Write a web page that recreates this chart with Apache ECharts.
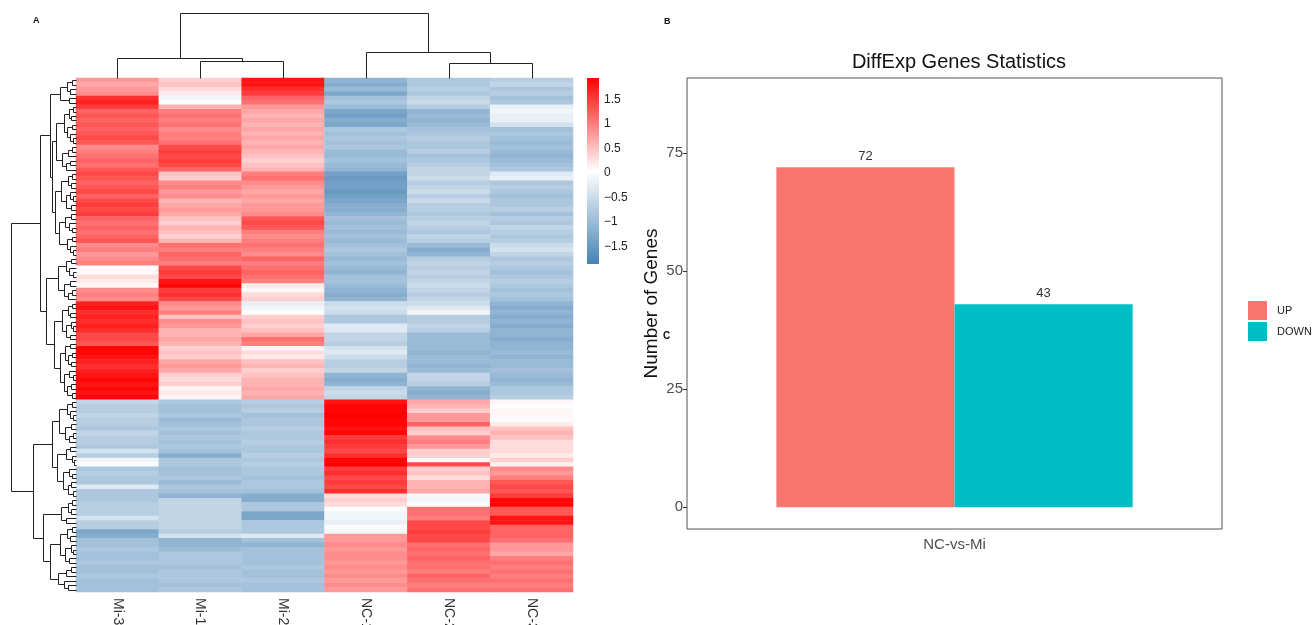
<!DOCTYPE html>
<html>
<head>
<meta charset="utf-8">
<script src="https://cdn.jsdelivr.net/npm/echarts@6.0.0/dist/echarts.min.js"></script>
<style>
  html, body { margin: 0; padding: 0; background: #fff; }
  #chart { width: 1316px; height: 625px; }
</style>
</head>
<body>
<div id="chart"></div>
<script>
const fontSans = "'Liberation Sans', Arial, Helvetica, sans-serif"

// heatmap columns (order as drawn)
const samples = ['Mi-3', 'Mi-1', 'Mi-2', 'NC-1', 'NC-2', 'NC-3']

// scaled expression, one row per gene: Mi-3, Mi-1, Mi-2, NC-1, NC-2, NC-3
const upGenes = [
  [0.8, 0.4, 1.8, -1.1, -0.8, -0.7], [0.7, 0.5, 1.8, -1.2, -0.8, -0.6], [0.8, 0.3, 1.6, -1.0, -0.7, -0.8],
  [0.9, 0.2, 1.5, -1.3, -0.8, -0.7], [1.6, -0.1, 1.2, -0.9, -0.6, -0.9], [1.7, 0.0, 1.1, -0.8, -0.5, -0.8],
  [1.5, 0.6, 0.8, -1.0, -0.7, -0.2], [1.2, 1.0, 0.7, -1.3, -1.1, -0.1], [1.3, 1.1, 0.6, -1.4, -1.0, -0.2],
  [1.2, 1.0, 0.7, -1.2, -1.1, -0.2], [1.3, 1.1, 0.6, -1.3, -1.0, -0.4], [1.2, 0.9, 0.7, -0.8, -0.9, -0.9],
  [1.3, 1.0, 0.6, -0.9, -0.8, -0.8], [1.4, 1.0, 0.7, -0.8, -0.7, -0.9], [1.3, 1.1, 0.6, -0.9, -0.8, -1.0],
  [0.9, 1.4, 0.7, -0.8, -0.8, -0.9], [1.0, 1.5, 0.6, -1.0, -0.7, -1.0], [1.1, 1.4, 0.5, -1.0, -0.9, -1.1],
  [1.2, 1.5, 0.4, -0.9, -0.8, -1.0], [1.1, 1.4, 0.5, -1.0, -0.7, -0.9], [1.3, 1.2, 0.6, -1.1, -0.6, -0.8],
  [1.4, 0.5, 1.0, -1.4, -0.6, -0.3], [1.3, 0.4, 1.1, -1.5, -0.5, -0.2], [1.2, 0.9, 0.9, -1.4, -0.7, -0.8],
  [1.3, 1.0, 0.8, -1.4, -0.6, -0.7], [1.4, 0.8, 0.7, -1.5, -0.5, -0.8], [1.2, 0.9, 0.8, -1.4, -0.7, -0.9],
  [1.4, 0.6, 0.7, -1.3, -0.5, -0.8], [1.5, 0.7, 0.8, -1.2, -0.7, -0.8], [1.4, 0.8, 0.8, -1.2, -0.7, -0.7],
  [1.5, 0.7, 0.9, -1.1, -0.8, -0.9], [1.2, 0.5, 1.3, -0.9, -0.7, -0.7], [1.1, 0.4, 1.4, -1.0, -0.6, -0.8],
  [1.2, 0.6, 1.3, -0.9, -0.7, -0.6], [1.1, 0.5, 1.0, -1.0, -0.8, -0.7], [1.2, 0.4, 0.9, -0.9, -0.6, -0.8],
  [1.3, 0.6, 1.0, -1.0, -0.7, -0.7], [0.9, 1.1, 1.1, -0.9, -1.0, -0.5], [1.0, 1.0, 1.0, -0.8, -1.2, -0.4],
  [0.8, 1.2, 0.9, -0.9, -1.1, -0.6], [0.9, 1.1, 1.2, -1.0, -0.7, -0.8], [1.0, 1.0, 1.0, -0.9, -0.6, -0.7],
  [0.05, 1.4, 1.1, -1.0, -0.7, -0.8], [0.1, 1.5, 1.2, -1.1, -0.6, -0.9], [0.3, 1.4, 1.1, -0.9, -0.7, -0.8],
  [0.2, 1.8, 1.0, -0.9, -0.6, -0.7], [0.1, 1.9, 0.2, -1.0, -0.5, -0.8], [0.9, 1.5, 0.1, -1.1, -0.6, -0.9],
  [1.0, 1.6, 0.3, -1.2, -0.7, -0.8], [0.9, 1.4, 0.4, -1.1, -0.6, -0.9], [1.7, 0.9, -0.2, -0.5, -0.5, -1.1],
  [1.8, 0.8, -0.1, -0.4, -0.3, -1.2], [1.6, 1.0, 0.0, -0.5, -0.1, -1.1], [1.7, 0.5, 0.4, -0.8, -0.7, -1.2],
  [1.6, 0.9, 0.5, -0.8, -0.7, -1.1], [1.7, 0.8, 0.4, -0.3, -0.6, -1.2], [1.6, 0.6, 0.5, -0.3, -0.7, -1.1],
  [1.4, 0.6, 0.7, -0.6, -1.0, -1.1], [1.4, 0.7, 1.1, -0.6, -1.0, -1.2], [1.3, 0.6, 1.0, -0.7, -1.0, -1.1],
  [1.9, 0.4, 0.1, -0.4, -1.0, -1.1], [1.9, 0.5, 0.3, -0.3, -1.1, -1.0], [1.8, 0.4, 0.2, -0.5, -1.0, -1.1],
  [1.7, 0.7, 0.5, -0.7, -1.0, -1.0], [1.6, 0.8, 0.6, -0.7, -1.1, -1.0], [1.7, 0.7, 0.4, -0.6, -1.0, -0.9],
  [1.8, 0.4, 0.5, -1.1, -0.6, -1.0], [1.9, 0.3, 0.6, -1.2, -0.6, -1.1], [1.8, 0.4, 0.6, -1.1, -0.7, -1.0],
  [1.9, 0.1, 0.7, -0.6, -1.1, -0.8], [1.8, 0.2, 0.6, -0.5, -1.2, -0.8], [1.9, 0.1, 0.7, -0.6, -1.1, -0.7],
]

const downGenes = [
  [-0.6, -0.8, -0.7, 1.8, 0.7, 0.1], [-0.7, -0.9, -0.8, 1.9, 0.6, 0.05], [-0.7, -0.9, -0.7, 1.9, 0.4, 0.1],
  [-0.6, -0.8, -0.9, 2.0, 0.8, 0.1], [-0.7, -1.0, -0.8, 1.9, 0.8, 0.0], [-0.7, -0.9, -0.8, 1.9, 1.2, 0.2],
  [-0.8, -0.8, -0.7, 1.8, 0.5, 0.5], [-0.6, -0.9, -0.8, 1.9, 0.4, 0.6], [-0.7, -0.8, -0.8, 1.5, 0.9, 0.5],
  [-0.7, -0.9, -0.7, 1.6, 1.0, 0.3], [-0.8, -0.8, -0.8, 1.5, 0.8, 0.3], [-0.4, -0.9, -0.8, 1.4, 0.4, 0.3],
  [-0.7, -1.2, -0.7, 1.6, 0.4, 0.2], [-0.1, -0.8, -0.8, 1.9, 0.1, 0.4], [0.0, -0.8, -0.7, 2.0, 1.4, 0.15],
  [-0.8, -0.9, -0.8, 1.5, 0.4, 0.9], [-0.7, -0.9, -0.8, 1.6, 0.5, 0.8], [-0.8, -0.8, -0.9, 1.4, 0.3, 1.0],
  [-0.8, -1.0, -0.8, 1.5, 0.6, 1.3], [-0.3, -0.8, -0.8, 1.4, 0.6, 1.4], [-0.8, -0.9, -0.9, 1.6, 0.7, 1.3],
  [-0.8, -1.1, -1.2, 0.3, -0.05, 1.5], [-0.8, -0.6, -1.2, 0.4, -0.1, 1.9], [-0.7, -0.6, -0.8, 0.3, 0.0, 1.9],
  [-0.7, -0.6, -0.8, 0.0, 1.1, 1.3], [-0.7, -0.6, -1.3, -0.1, 1.1, 1.3], [-0.4, -0.6, -1.3, -0.1, 1.0, 1.8],
  [-0.7, -0.6, -0.8, -0.2, 1.4, 1.8], [-0.7, -0.6, -0.8, 0.0, 1.4, 1.2], [-1.3, -0.7, -0.8, -0.1, 1.5, 1.2],
  [-1.2, -0.4, -0.3, 0.8, 1.4, 1.2], [-0.9, -1.1, -0.9, 0.8, 1.4, 1.1], [-0.9, -1.1, -1.1, 0.9, 1.1, 0.8],
  [-0.8, -1.0, -0.9, 0.8, 1.2, 0.8], [-0.9, -0.8, -0.9, 0.9, 1.1, 0.7], [-0.9, -0.8, -0.9, 0.9, 1.2, 1.0],
  [-0.8, -0.8, -0.9, 0.8, 1.1, 1.1], [-0.9, -0.9, -0.8, 0.9, 1.1, 1.0], [-0.9, -0.8, -0.9, 0.8, 1.0, 1.1],
  [-0.8, -0.8, -0.9, 0.9, 1.2, 1.0], [-0.9, -0.8, -0.8, 0.8, 1.1, 1.1], [-0.9, -0.9, -0.9, 0.9, 1.0, 1.0],
  [-0.9, -0.8, -0.9, 0.8, 1.1, 1.1],
]

// dendrograms: node = [height, child, child, ...], leaf = 0 (leaves taken in drawing order)
const colTree = [65, [20, 0, [17.5, 0, 0]], [26, 0, [15.5, 0, 0]]]

const rowTreeUp = [36,
  [26,
    [16, [9, [4, 0, 0], [6, 0, 0]], [7, 0, 0]],
    [24,
      [20, [12, [7, [3, 0, 0], [5, 0, 0]], [9, [4, 0, 0], [6, 0, [3, 0, 0]]]], [14, [8, [4, 0, 0], 0], [10, [6, 0, 0], 0]]],
      [21, [15, [8, [4, 0, 0], [5, 0, 0]], [10, [6, 0, [3, 0, 0]], [5, 0, 0]]], [17, [11, [5, 0, 0], [7, 0, [4, 0, 0]]], [9, [4, 0, 0], [6, 0, [3, 0, 0]]]]]]],
  [30,
    [18, [10, [5, 0, 0], [7, 0, [3, 0, 0]]], [12, [6, 0, 0], [8, [4, 0, 0], 0]]],
    [22, [14, [8, [4, 0, 0], [6, 0, 0]], [10, [5, 0, [3, 0, 0]], [6, 0, 0]]], [16, [11, [6, 0, 0], [8, [4, 0, 0], [5, 0, 0]]], [12, [7, 0, [3, 0, 0]], [9, [5, 0, 0], [4, 0, 0]]]]]]]

const rowTreeDown = [43,
  [24, [17, [9, [4, 0, 0], [6, 0, [3, 0, 0]]], [11, [5, 0, 0], [7, [3, 0, 0], 0]]], [19, [10, [6, 0, 0], [4, 0, [2, 0, 0]]], [13, [7, 0, [4, 0, 0]], [8, [5, 0, 0], [3, 0, 0]]]]],
  [33, [15, [8, [4, 0, 0], [5, 0, 0]], [10, 0, 0]], [26, [16, [9, [4, 0, 0], [6, 0, 0]], [11, [5, 0, [3, 0, 0]], [7, 0, 0]]], [18, [10, [5, 0, 0], 0], [12, 0, [8, 0, 0]]]]]]

const rowTree = [65, rowTreeUp, rowTreeDown]

// colour key
const keyMin = -1.86
const keyMax = 1.94
const keyTicks = [-1.5, -1, -0.5, 0, 0.5, 1, 1.5]
const keyColors = ['#4682B4', '#FFFFFF', '#FF0000']

// bar chart
const comparisons = ['NC-vs-Mi']
const upCount = [72]
const downCount = [43]
const countTicks = [0, 25, 50, 75]

const geneRows = upGenes.concat(downGenes)
const heatData = []
geneRows.forEach((row, r) => row.forEach((v, c) => heatData.push([c, r, v])))

// turn a tree into line segments [height1, pos1, height2, pos2]
function treeSegments(tree) {
  const segs = []
  let leaf = 0
  const walk = node => {
    if (node === 0) return { h: 0, p: leaf++ + 0.5 }
    const h = node[0]
    const kids = node.slice(1).map(walk)
    kids.forEach(k => segs.push([k.h, k.p, h, k.p]))
    const p0 = kids[0].p
    const p1 = kids[kids.length - 1].p
    segs.push([h, p0, h, p1])
    return { h, p: (p0 + p1) / 2 }
  }
  walk(tree)
  return segs
}

const rowSegs = treeSegments(rowTree)
const colSegs = treeSegments(colTree).map(s => [s[1], s[0], s[3], s[2]])

const lineItem = (params, api) => {
  const a = api.coord([api.value(0), api.value(1)])
  const b = api.coord([api.value(2), api.value(3)])
  return {
    type: 'line',
    shape: { x1: Math.round(a[0]) + 0.5, y1: Math.round(a[1]) + 0.5, x2: Math.round(b[0]) + 0.5, y2: Math.round(b[1]) + 0.5 },
    style: { stroke: '#222', lineWidth: 1 },
  }
}

const minusFmt = v => (v < 0 ? '\u2212' + Math.abs(v) : String(v))

const chart = echarts.init(document.getElementById('chart'))

chart.setOption({
  animation: false,
  textStyle: { fontFamily: fontSans },
  title: {
    text: 'DiffExp Genes Statistics',
    left: 954,
    top: 47,
    textAlign: 'center',
    textStyle: { fontSize: 20, fontWeight: 'normal', color: '#111', fontFamily: fontSans },
  },
  graphic: [
    { type: 'text', left: 33, top: 16, style: { text: 'A', font: 'bold 9px ' + fontSans, fill: '#111' } },
    { type: 'text', left: 664, top: 17, style: { text: 'B', font: 'bold 9px ' + fontSans, fill: '#111' } },
    { type: 'text', left: 663, top: 331, style: { text: 'C', font: 'bold 10px ' + fontSans, fill: '#111' } },
  ],
  legend: {
    data: ['UP', 'DOWN'],
    orient: 'vertical',
    left: 1243,
    top: 296,
    itemWidth: 19,
    itemHeight: 19,
    itemGap: 2,
    icon: 'rect',
    textStyle: { fontSize: 11, color: '#222', padding: [0, 0, 0, 5] },
  },
  visualMap: {
    type: 'continuous',
    show: false,
    seriesIndex: 0,
    min: keyMin,
    max: keyMax,
    inRange: { color: keyColors },
  },
  grid: [
    { left: 76, top: 78, width: 497, height: 514, outerBoundsMode: 'none' },
    { left: 76, top: 13, width: 497, height: 65, outerBoundsMode: 'none' },
    { left: 10, top: 78, width: 66, height: 514, outerBoundsMode: 'none' },
    { left: 587, top: 78, width: 12, height: 186, outerBoundsMode: 'none' },
    { left: 687, top: 78, width: 535, height: 451, show: true, borderColor: '#555', borderWidth: 1, outerBoundsMode: 'none' },
  ],
  xAxis: [
    {
      gridIndex: 0,
      type: 'category',
      data: samples,
      position: 'bottom',
      axisLine: { show: false },
      axisTick: { show: false },
      axisLabel: { rotate: -90, fontSize: 14, color: '#333', margin: 6 },
    },
    { gridIndex: 1, type: 'value', min: 0, max: samples.length, show: false },
    { gridIndex: 2, type: 'value', min: 0, max: 66, inverse: true, show: false },
    { gridIndex: 3, type: 'value', min: 0, max: 1, show: false },
    {
      gridIndex: 4,
      type: 'category',
      data: comparisons,
      axisLine: { show: false },
      axisTick: { alignWithLabel: true, length: 4, lineStyle: { color: '#333' } },
      axisLabel: { fontSize: 15, color: '#4d4d4d', margin: 8 },
    },
  ],
  yAxis: [
    { gridIndex: 0, type: 'category', data: geneRows.map((_, i) => 'gene' + (i + 1)), inverse: true, show: false },
    { gridIndex: 1, type: 'value', min: 0, max: 65, show: false },
    { gridIndex: 2, type: 'value', min: 0, max: geneRows.length, inverse: true, show: false },
    {
      gridIndex: 3,
      type: 'value',
      min: keyMin,
      max: keyMax,
      position: 'right',
      axisLine: { show: false },
      axisTick: { show: false },
      splitLine: { show: false },
      axisLabel: { customValues: keyTicks, formatter: minusFmt, fontSize: 12, color: '#222', margin: 5 },
    },
    {
      gridIndex: 4,
      type: 'value',
      min: -4.6,
      max: 90.9,
      name: 'Number of Genes',
      nameLocation: 'middle',
      nameGap: 26,
      nameTextStyle: { fontSize: 19, color: '#111' },
      axisLine: { show: false },
      splitLine: { show: false },
      axisTick: { show: true, customValues: countTicks, length: 4, lineStyle: { color: '#333' } },
      axisLabel: { customValues: countTicks, fontSize: 15, color: '#4d4d4d', margin: 4 },
    },
  ],
  series: [
    {
      type: 'heatmap',
      xAxisIndex: 0,
      yAxisIndex: 0,
      data: heatData,
      itemStyle: { borderWidth: 0 },
      emphasis: { disabled: true },
    },
    {
      type: 'custom',
      xAxisIndex: 1,
      yAxisIndex: 1,
      data: colSegs,
      clip: false,
      renderItem: lineItem,
    },
    {
      type: 'custom',
      xAxisIndex: 2,
      yAxisIndex: 2,
      data: rowSegs,
      clip: false,
      renderItem: lineItem,
    },
    {
      type: 'custom',
      xAxisIndex: 3,
      yAxisIndex: 3,
      data: [[0, keyMin, 1, keyMax]],
      clip: false,
      renderItem: (params, api) => {
        const a = api.coord([api.value(0), api.value(3)])
        const b = api.coord([api.value(2), api.value(1)])
        return {
          type: 'rect',
          shape: { x: a[0], y: a[1], width: b[0] - a[0], height: b[1] - a[1] },
          style: {
            fill: new echarts.graphic.LinearGradient(0, 0, 0, 1, [
              { offset: 0, color: keyColors[2] },
              { offset: 0.5, color: keyColors[1] },
              { offset: 1, color: keyColors[0] },
            ]),
          },
        }
      },
    },
    {
      name: 'UP',
      type: 'bar',
      xAxisIndex: 4,
      yAxisIndex: 4,
      data: upCount,
      barWidth: '33.3%',
      barGap: '0%',
      itemStyle: { color: '#F8766D' },
      label: { show: true, position: 'top', distance: 4, fontSize: 13, color: '#333' },
    },
    {
      name: 'DOWN',
      type: 'bar',
      xAxisIndex: 4,
      yAxisIndex: 4,
      data: downCount,
      barWidth: '33.3%',
      barGap: '0%',
      itemStyle: { color: '#00BFC4' },
      label: { show: true, position: 'top', distance: 4, fontSize: 13, color: '#333' },
    },
  ],
})
</script>
</body>
</html>
